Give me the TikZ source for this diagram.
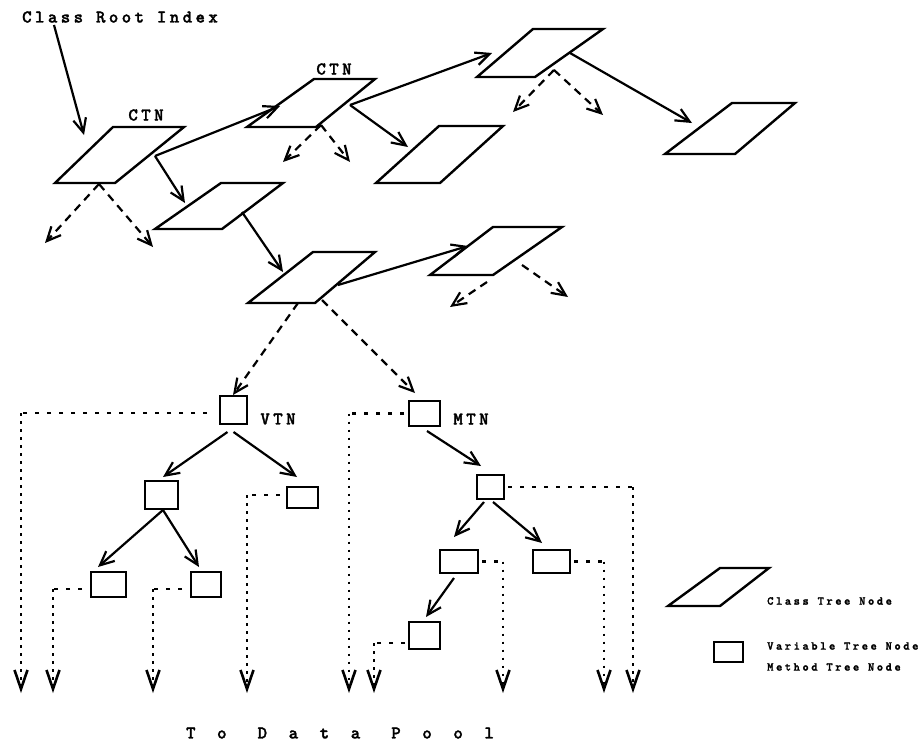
\documentclass[tikz,border=0pt]{standalone}
\usepackage{fontspec}
\usetikzlibrary{arrows.meta}
\newfontfamily\lblfont{lmmonolt10-bold.otf}[LetterSpace=19,FakeBold=1.6]
\newfontfamily\poolfont{lmmonolt10-bold.otf}[LetterSpace=120,FakeBold=1.6]
\newfontfamily\legfont{lmmonolt10-bold.otf}[LetterSpace=21,FakeBold=1.8]
\newcommand\para[5]{\draw[pedge] (#2) coordinate (#1-tl) -- (#3) coordinate (#1-tr) -- (#4) coordinate (#1-br) -- (#5) coordinate (#1-bl) -- cycle;}
\begin{document}
\begin{tikzpicture}[x=1pt,y=-1pt,
 pedge/.style={line width=2.4pt, line join=miter},
 sarrow/.style={line width=2.2pt, -{Straight Barb[length=14pt,width=13pt]}},
 darrow/.style={sarrow, dash pattern=on 8pt off 6pt},
 hdot/.style={line width=2.4pt, dash pattern=on 4pt off 8pt},
 vdot/.style={line width=2.6pt, dash pattern=on 2.5pt off 5.5pt, -{Straight Barb[length=19pt,width=13pt]}},
 box/.style={draw, line width=2.4pt, inner sep=0pt, outer sep=0pt, anchor=north west},
 lbl/.style={font=\lblfont\fontsize{18}{18}\selectfont, inner sep=0pt},
 leg/.style={font=\legfont\fontsize{12}{13}\selectfont, inner sep=0pt, anchor=west},
]
\useasboundingbox (0,0) rectangle (921,744);

% class tree nodes
\para{p1}{113,127}{184,127}{115,183}{55,183}
\para{p2}{314,79}{375,79}{316,127}{247,127}
\para{p3}{533,29}{603,29}{535,77}{477,77}
\para{p4}{732,103}{795,103}{735,154}{665,154}
\para{p5}{439,126}{503,126}{440,183}{376,183}
\para{p6}{221,183}{283,183}{222,229}{155,229}
\para{p7}{313,252}{375,252}{315,303}{248,303}
\para{p8}{493,227}{562,227}{493,275}{430,275}

% labels
\node[lbl, anchor=west] (cri) at (22,17) {Class Root Index};
\node[lbl] (ctn1) at (146,115) {CTN};
\node[lbl] (ctn2) at (334,69) {CTN};
\node[lbl] (vtnl) at (278,419) {VTN};
\node[lbl] (mtnl) at (471,419) {MTN};
\node[font=\poolfont\fontsize{18}{18}\selectfont, inner sep=0pt] (pool) at (340,733) {To Data Pool};

% connector points on class tree nodes
\coordinate (p1in) at (84,135);
\coordinate (p1o) at (155,156);
\coordinate (p2in) at (280,106);
\coordinate (p6in) at (185,203);
\coordinate (p1d) at (99,184);
\coordinate (p1dl) at (45,243);
\coordinate (p1dr) at (153,247);
\coordinate (p2o) at (350,105);
\coordinate (p3in) at (492,53);
\coordinate (p5in) at (408,147);
\coordinate (p2d) at (321,125);
\coordinate (p2dl) at (283,162);
\coordinate (p2dr) at (350,162);
\coordinate (p3o) at (570,53);
\coordinate (p4in) at (692,123);
\coordinate (p3d) at (554,70);
\coordinate (p3dl) at (513,112);
\coordinate (p3dr) at (603,115);
\coordinate (p6o) at (242,212);
\coordinate (p7in) at (283,272);
\coordinate (p7o) at (338,285);
\coordinate (p8in) at (468,246);
\coordinate (p7d1) at (298,303);
\coordinate (p7d2) at (322,300);
\coordinate (p8d1) at (487,282);
\coordinate (p8dl) at (450,307);
\coordinate (p8d2) at (522,265);
\coordinate (p8dr) at (568,297);

% variable / method tree nodes
\node[box, minimum width=27pt, minimum height=28pt] (vtn) at (220,396) {};
\node[box, minimum width=33pt, minimum height=28pt] (v1) at (145,481) {};
\node[box, minimum width=31pt, minimum height=21pt] (v2) at (287,487) {};
\node[box, minimum width=35pt, minimum height=25pt] (v3) at (91,572) {};
\node[box, minimum width=30pt, minimum height=25pt] (v4) at (191,572) {};
\node[box, minimum width=31pt, minimum height=25pt] (mtn) at (409,401) {};
\node[box, minimum width=27pt, minimum height=24pt] (m1) at (477,475) {};
\node[box, minimum width=38pt, minimum height=23pt] (m2) at (440,550) {};
\node[box, minimum width=37pt, minimum height=23pt] (m3) at (533,550) {};
\node[box, minimum width=31pt, minimum height=27pt] (m4) at (409,622) {};

% solid arrows between class tree nodes
\draw[sarrow] ([shift={(32,8)}]cri.west) -- (p1in);
\draw[sarrow] (p1o) -- (p2in);
\draw[sarrow] (p1o) -- (p6in);
\draw[sarrow] (p2o) -- (p3in);
\draw[sarrow] (p2o) -- (p5in);
\draw[sarrow] (p3o) -- (p4in);
\draw[sarrow] (p6o) -- (p7in);
\draw[sarrow] (p7o) -- (p8in);

% dashed arrows
\draw[darrow] (p1d) -- (p1dl);
\draw[darrow] (p1d) -- (p1dr);
\draw[darrow] (p2d) -- (p2dl);
\draw[darrow] (p2d) -- (p2dr);
\draw[darrow] (p3d) -- (p3dl);
\draw[darrow] (p3d) -- (p3dr);
\draw[darrow] (p8d1) -- (p8dl);
\draw[darrow] (p8d2) -- (p8dr);
\draw[darrow] (p7d1) -- ([shift={(-0.5,-1)}]vtn.north);
\draw[darrow] (p7d2) -- ([shift={(6,-8)}]mtn.north west);

% tree arrows
\draw[sarrow] ([shift={(-6,8)}]vtn.south) -- ([shift={(1.5,-4)}]v1.north);
\draw[sarrow] ([shift={(0,8)}]vtn.south) -- ([shift={(-5.5,-10)}]v2.north);
\draw[sarrow] ([shift={(1.5,1)}]v1.south) -- ([shift={(-10.5,-5)}]v3.north);
\draw[sarrow] ([shift={(1.5,1)}]v1.south) -- ([shift={(-7,-5)}]v4.north);
\draw[sarrow] ([shift={(2.5,5)}]mtn.south) -- ([shift={(-9.5,-9)}]m1.north);
\draw[sarrow] ([shift={(-6.5,3)}]m1.south) -- ([shift={(-5,-13)}]m2.north);
\draw[sarrow] ([shift={(2.5,3)}]m1.south) -- ([shift={(-9.5,-7)}]m3.north);
\draw[sarrow] ([shift={(-5,5)}]m2.south) -- ([shift={(1.5,-5)}]m4.north);

% ends at the data pool
\coordinate (e1) at (21,693);
\coordinate (e2) at (247,693);
\coordinate (e3) at (53,693);
\coordinate (e4) at (153,693);
\coordinate (e5) at (349,693);
\coordinate (e6) at (633,693);
\coordinate (e7) at (503,693);
\coordinate (e8) at (604,693);
\coordinate (e9) at (374,693);

\draw[hdot] ([shift={(-13,3)}]vtn.west) coordinate (h1) -- (h1 -| e1) coordinate (k1);
\draw[vdot] (k1) -- (e1);
\draw[hdot] ([shift={(-7,-2.5)}]v2.west) coordinate (h2) -- (h2 -| e2) coordinate (k2);
\draw[vdot] (k2) -- (e2);
\draw[hdot] ([shift={(-9,4.5)}]v3.west) coordinate (h3) -- (h3 -| e3) coordinate (k3);
\draw[vdot] (k3) -- (e3);
\draw[hdot] ([shift={(-9,4.5)}]v4.west) coordinate (h4) -- (h4 -| e4) coordinate (k4);
\draw[vdot] (k4) -- (e4);
\draw[hdot] ([shift={(-5,0)}]mtn.west) coordinate (h5) -- (h5 -| e5) coordinate (k5);
\draw[vdot] (k5) -- (e5);
\draw[hdot] ([shift={(4,0)}]m1.east) coordinate (h6) -- (h6 -| e6) coordinate (k6);
\draw[vdot] (k6) -- (e6);
\draw[hdot] ([shift={(4,0)}]m2.east) coordinate (h7) -- (h7 -| e7) coordinate (k7);
\draw[vdot] (k7) -- (e7);
\draw[hdot] ([shift={(4,0)}]m3.east) coordinate (h8) -- (h8 -| e8) coordinate (k8);
\draw[vdot] (k8) -- (e8);
\draw[hdot] ([shift={(-4,7.5)}]m4.west) coordinate (h9) -- (h9 -| e9) coordinate (k9);
\draw[vdot] (k9) -- (e9);

% legend
\para{lg}{720,568}{769,568}{720,606}{668,606}
\node[box, minimum width=29pt, minimum height=20pt] (lgbox) at (714,642) {};
\node[leg] (lg1) at (767,601) {Class Tree Node};
\node[leg] (lg2) at (767,646) {Variable Tree Node};
\node[leg] (lg3) at (767,667) {Method Tree Node};
\end{tikzpicture}
\end{document}
